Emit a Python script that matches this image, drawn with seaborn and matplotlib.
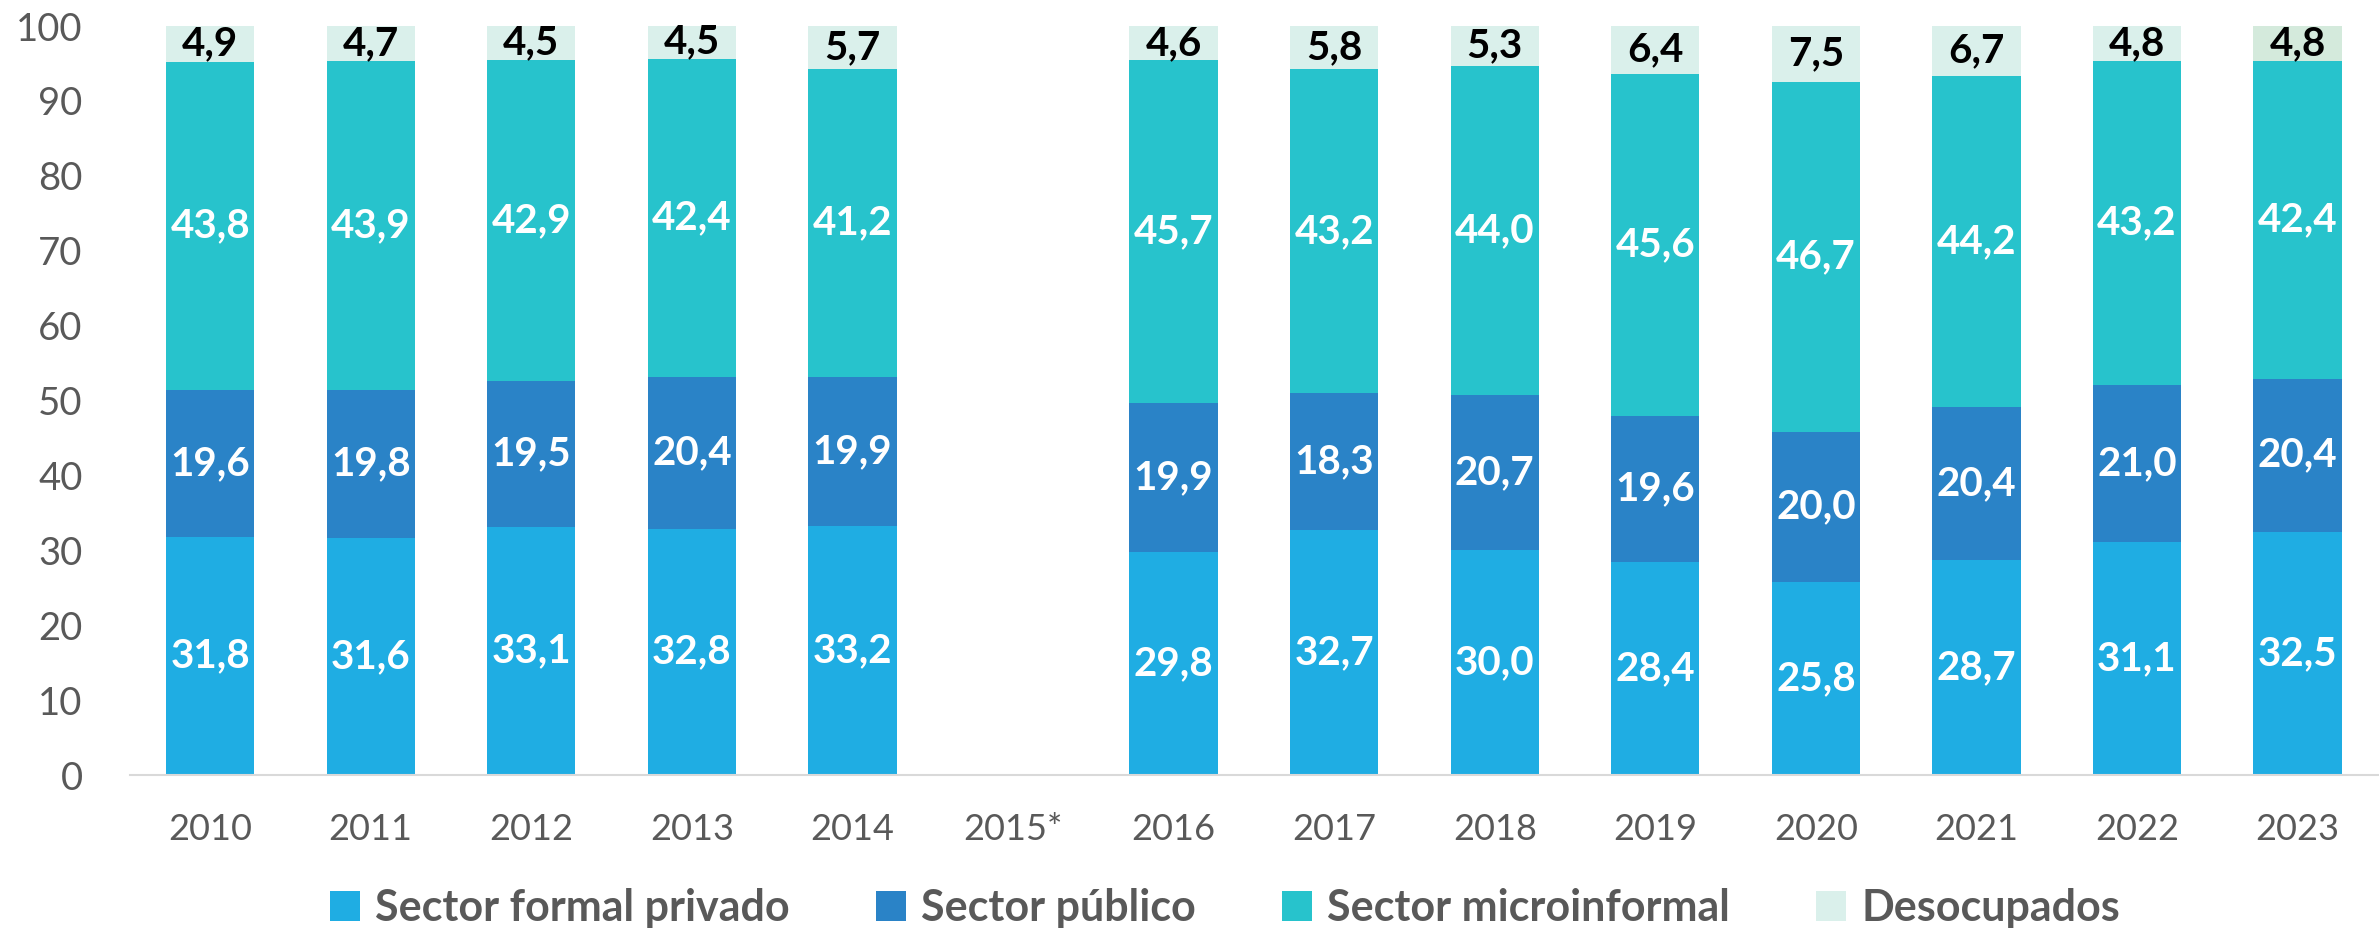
import numpy as np
import pandas as pd
import matplotlib
matplotlib.use("Agg")
import matplotlib.pyplot as plt
from matplotlib.patches import Patch
import seaborn as sns

# ---------------- data ----------------
years = ["2010", "2011", "2012", "2013", "2014", "2015*", "2016", "2017",
         "2018", "2019", "2020", "2021", "2022", "2023"]
formal_privado = [31.8, 31.6, 33.1, 32.8, 33.2, np.nan, 29.8, 32.7, 30.0, 28.4, 25.8, 28.7, 31.1, 32.5]
publico = [19.6, 19.8, 19.5, 20.4, 19.9, np.nan, 19.9, 18.3, 20.7, 19.6, 20.0, 20.4, 21.0, 20.4]
microinformal = [43.8, 43.9, 42.9, 42.4, 41.2, np.nan, 45.7, 43.2, 44.0, 45.6, 46.7, 44.2, 43.2, 42.4]
desocupados = [4.9, 4.7, 4.5, 4.5, 5.7, np.nan, 4.6, 5.8, 5.3, 6.4, 7.5, 6.7, 4.8, 4.8]

series_names = ["Sector formal privado", "Sector público", "Sector microinformal", "Desocupados"]
colors = ["#1fade3", "#2a83c7", "#27c3cc", "#daf0eb"]
label_colors = ["white", "white", "white", "black"]

df = pd.DataFrame({
    "year": years,
    series_names[0]: formal_privado,
    series_names[1]: publico,
    series_names[2]: microinformal,
    series_names[3]: desocupados,
})
# cumulative tops for the stacked look (tallest drawn first)
cum = df[series_names].cumsum(axis=1)

sns.set_style("white")
plt.rcParams["font.family"] = ["Lato", "DejaVu Sans"]

fig = plt.figure(figsize=(23.79, 9.33), dpi=100)
ax = fig.add_axes([0.0546, 0.1693, 0.9449, 0.8028])

for name, col in reversed(list(zip(series_names, colors))):
    sns.barplot(x=df["year"], y=cum[name], order=years, color=col,
                width=0.55, saturation=1, ax=ax, linewidth=0)

# last year's top segment is a slightly greener shade in the original
ax.containers[0].patches[-1].set_facecolor("#d4eadc")

# data labels centred in each segment
for i in range(len(years)):
    bottom = 0
    for name, lc in zip(series_names, label_colors):
        v = df[name].iloc[i]
        if np.isnan(v):
            continue
        ax.text(i, bottom + v / 2, f"{v:.1f}".replace(".", ","), ha="center", va="center",
                color=lc, fontsize=29, fontweight="bold")
        bottom += v

ax.set_ylim(0, 100)
ax.set_xlim(-0.5, len(years) - 0.5)
ax.set_yticks(range(0, 101, 10))
ax.set_xlabel("")
ax.set_ylabel("")
ax.tick_params(axis="y", length=0, pad=34, labelsize=27.5, labelcolor="#595959")
ax.tick_params(axis="x", length=0, pad=27, labelsize=26, labelcolor="#595959")
for s in ["top", "right", "left"]:
    ax.spines[s].set_visible(False)
ax.spines["bottom"].set_color("#d9d9d9")
ax.spines["bottom"].set_linewidth(1.5)
ax.grid(False)

handles = [Patch(facecolor=c, edgecolor="none", label=n) for n, c in zip(series_names, colors)]
leg = fig.legend(handles=handles, loc="center", bbox_to_anchor=(0.515, 0.027), ncol=4,
                 frameon=False, handlelength=0.7, handleheight=0.7, handletextpad=0.35,
                 columnspacing=2.0, prop={"size": 31, "weight": "bold"})
for t in leg.get_texts():
    t.set_color("#595959")

fig.savefig("out.png", dpi=100)
